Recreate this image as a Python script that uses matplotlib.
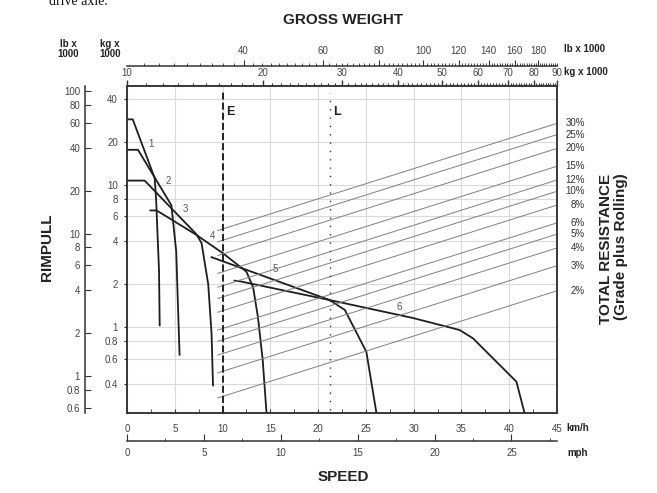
import matplotlib
matplotlib.use("Agg")
import matplotlib.pyplot as plt
from matplotlib.ticker import FixedLocator, NullLocator, NullFormatter

plt.rcParams['font.family'] = ['Liberation Sans', 'DejaVu Sans']

KG_TO_LB = 2.2046
KMH_TO_MPH = 0.621371

# gear curves: speed in km/h, rimpull in kg x 1000
gear1_speed = [0.0, 0.6, 2.8, 2.9, 3.05, 3.35, 3.42]
gear1_rimpull = [28.8, 28.8, 11.6, 11.1, 7.8, 2.5, 1.03]
gear2_speed = [0.0, 1.15, 4.45, 4.65, 5.15, 5.5]
gear2_rimpull = [17.6, 17.6, 7.55, 7.15, 3.4, 0.64]
gear3_speed = [0.0, 1.85, 7.25, 7.8, 8.5, 8.85, 9.0]
gear3_rimpull = [10.7, 10.7, 4.5, 3.9, 2.0, 0.9, 0.39]
gear4_speed = [2.45, 3.1, 7.25, 10.05, 12.5, 13.2, 13.7, 14.2, 14.6]
gear4_rimpull = [6.6, 6.6, 4.45, 3.3, 2.45, 1.9, 1.18, 0.59, 0.25]
gear5_speed = [8.85, 15.45, 21.2, 22.8, 25.05, 26.1]
gear5_rimpull = [3.1, 2.14, 1.55, 1.32, 0.67, 0.25]
gear6_speed = [11.25, 11.8, 21.2, 29.9, 34.8, 36.2, 40.75, 41.6]
gear6_rimpull = [2.12, 2.1, 1.55, 1.16, 0.955, 0.835, 0.414, 0.25]
gear_names = ['1', '2', '3', '4', '5', '6']

# total resistance lines, drawn against gross weight (kg x 1000)
grades = [30, 25, 20, 15, 12, 10, 8, 6, 5, 4, 3, 2]
gw_start = 15.9
gw_end = 90

# empty / loaded gross weight markers (kg x 1000)
empty_gw = 16.3
loaded_gw = 28.2

# tick values
kg_rimpull_ticks = [40, 20, 10, 8, 6, 4, 2, 1, 0.8, 0.6, 0.4]
lb_rimpull_ticks = [100, 80, 60, 40, 20, 10, 8, 6, 4, 2, 1, 0.8, 0.6]
kmh_ticks = list(range(0, 50, 5))
mph_ticks = list(range(0, 30, 5))
kg_gw_ticks = list(range(10, 100, 10))
lb_gw_ticks = list(range(40, 200, 20))

W, H = 657, 493


def px(x, y):
    return x / W, 1 - y / H


def fmt(v):
    return str(v) if v < 1 else str(int(v))


fig = plt.figure(figsize=(W / 100, H / 100), dpi=100)
ax = fig.add_axes([127 / W, 80 / H, 430 / W, 327 / H])
ax.set_xlim(0, 45)
ax.set_yscale('log')
ax.set_ylim(0.2493, 49.4)

tick_col = '#444'
spine_col = '#333'
for s in ax.spines.values():
    s.set_color(spine_col)
    s.set_linewidth(1.1)

ax.set_yticks(kg_rimpull_ticks, [fmt(v) for v in kg_rimpull_ticks])
ax.yaxis.set_minor_locator(NullLocator())
ax.set_xticks(kmh_ticks, [str(v) for v in kmh_ticks])
ax.xaxis.set_minor_locator(FixedLocator([v + 2.5 for v in kmh_ticks[:-1]]))
ax.tick_params(axis='y', which='both', direction='out', length=2.5, pad=4,
               labelsize=7, labelcolor=tick_col, color=spine_col, right=False)
ax.tick_params(axis='x', which='both', direction='in', length=3, pad=8,
               labelsize=7, labelcolor=tick_col, color=spine_col, top=False)
ax.grid(True, which='major', color='#dadada', lw=0.8)
ax.set_axisbelow(True)

gears = [(gear1_speed, gear1_rimpull), (gear2_speed, gear2_rimpull),
         (gear3_speed, gear3_rimpull), (gear4_speed, gear4_rimpull),
         (gear5_speed, gear5_rimpull), (gear6_speed, gear6_rimpull)]
for sp, rp in gears:
    ax.plot(sp, rp, color='#1e1e1e', lw=1.3, zorder=4)

label_pos = [(2.55, 19.4), (4.3, 10.6), (6.15, 6.8), (8.9, 4.35),
             (15.55, 2.55), (28.5, 1.39)]
for name, (sx, ry) in zip(gear_names, label_pos):
    ax.text(sx, ry, name, fontsize=7, color='#555', ha='center', va='center')

# gross weight scale (top) shares the rimpull axis
ax_gw = ax.twiny()
ax_gw.set_xscale('log')
ax_gw.set_xlim(10, 90)
ax_gw.set_xticks(kg_gw_ticks, [str(v) for v in kg_gw_ticks])
ax_gw.xaxis.set_minor_locator(FixedLocator([v for v in range(11, 90) if v % 10]))
ax_gw.xaxis.set_minor_formatter(NullFormatter())
ax_gw.tick_params(axis='x', which='major', direction='out', length=4, pad=2,
                  labelsize=7, labelcolor=tick_col, color=spine_col, width=1)
ax_gw.tick_params(axis='x', which='minor', direction='out', length=2,
                  color=spine_col, width=0.8)
for s in ax_gw.spines.values():
    s.set_color(spine_col)
    s.set_linewidth(1.1)

for g in grades:
    ax_gw.plot([gw_start, gw_end], [gw_start * g / 100, gw_end * g / 100],
               color='#808080', lw=0.7, zorder=2)
    ax_gw.annotate(f'{g}%', xy=(gw_end, gw_end * g / 100), xytext=(20, 0),
                   textcoords='offset points', ha='right', va='center',
                   fontsize=7, color='#333', annotation_clip=False)

ax_gw.axvline(empty_gw, ymin=0, ymax=0.985, color='#222', lw=1.4,
              ls=(0, (3.6, 1.6)), zorder=5)
ax_gw.axvline(loaded_gw, ymin=0.01, ymax=0.98, color='#333', lw=1.0,
              ls=(0, (1, 5)), zorder=5)
ax_gw.annotate('E', xy=(empty_gw, 32.4), xytext=(2.5, 0), textcoords='offset points',
               ha='left', va='center', fontsize=9, fontweight='bold', color='#222')
ax_gw.annotate('L', xy=(loaded_gw, 32.4), xytext=(2.5, 0), textcoords='offset points',
               ha='left', va='center', fontsize=9, fontweight='bold', color='#222')

# gross weight in lb x 1000
sec_lb = ax_gw.secondary_xaxis(1 + 20 / 327, functions=(lambda x: x * KG_TO_LB,
                                                        lambda x: x / KG_TO_LB))
sec_lb.set_xticks(lb_gw_ticks, [str(v) for v in lb_gw_ticks])
sec_lb.xaxis.set_minor_locator(FixedLocator([v for v in range(22, 199, 2) if v % 20]))
sec_lb.xaxis.set_minor_formatter(NullFormatter())
sec_lb.tick_params(axis='x', which='major', direction='out', length=4, pad=3,
                   labelsize=7, labelcolor=tick_col, color=spine_col)
sec_lb.tick_params(axis='x', which='minor', direction='out', length=2, color=spine_col)
for s in sec_lb.spines.values():
    s.set_color(spine_col)
    s.set_linewidth(1.1)

# rimpull in lb x 1000
sec_y = ax.secondary_yaxis(-42 / 430, functions=(lambda y: y * KG_TO_LB,
                                                  lambda y: y / KG_TO_LB))
sec_y.set_yticks(lb_rimpull_ticks, [fmt(v) for v in lb_rimpull_ticks])
sec_y.yaxis.set_minor_locator(NullLocator())
sec_y.tick_params(axis='y', direction='in', length=4, pad=3.5,
                  labelsize=7, labelcolor=tick_col, color=spine_col)
for s in sec_y.spines.values():
    s.set_color(spine_col)
    s.set_linewidth(1.1)

# speed in mph
sec_mph = ax.secondary_xaxis(-28.4 / 327, functions=(lambda x: x * KMH_TO_MPH,
                                                     lambda x: x / KMH_TO_MPH))
sec_mph.set_xticks(mph_ticks, [str(v) for v in mph_ticks])
sec_mph.xaxis.set_minor_locator(FixedLocator([v + 2.5 for v in mph_ticks]))
sec_mph.xaxis.set_minor_formatter(NullFormatter())
sec_mph.tick_params(axis='x', which='major', direction='in', length=5, pad=5,
                    labelsize=7, labelcolor=tick_col, color=spine_col)
sec_mph.tick_params(axis='x', which='minor', direction='in', length=2.5, color=spine_col)
for s in sec_mph.spines.values():
    s.set_color(spine_col)
    s.set_linewidth(1.1)

# titles and unit labels
title_col = '#222'
fig.text(*px(343, 20), 'GROSS WEIGHT', fontsize=11, fontweight='bold',
         color=title_col, ha='center', va='center')
fig.text(*px(343, 477), 'SPEED', fontsize=11, fontweight='bold',
         color=title_col, ha='center', va='center')
fig.text(*px(47.5, 247), 'RIMPULL', fontsize=11, fontweight='bold',
         color=title_col, ha='center', va='center', rotation=90)
fig.text(*px(606, 249), 'TOTAL RESISTANCE', fontsize=11, fontweight='bold',
         color=title_col, ha='center', va='center', rotation=90)
fig.text(*px(621, 247), '(Grade plus Rolling)', fontsize=11, fontweight='bold',
         color=title_col, ha='center', va='center', rotation=90)

unit_kw = dict(fontsize=7, fontweight='bold', color=title_col)
fig.text(*px(68, 49), 'lb x\n1000', ha='center', va='center', linespacing=1.05, **unit_kw)
fig.text(*px(110, 49), 'kg x\n1000', ha='center', va='center', linespacing=1.05, **unit_kw)
fig.text(*px(564, 49), 'lb x 1000', ha='left', va='center', **unit_kw)
fig.text(*px(564, 72), 'kg x 1000', ha='left', va='center', **unit_kw)
fig.text(*px(566, 428), 'km/h', ha='left', va='center', **unit_kw)
fig.text(*px(567, 453), 'mph', ha='left', va='center', **unit_kw)

fig.text(*px(49, 5), 'drive axle.', fontsize=10, color='#111', ha='left',
         va='baseline', family=['Liberation Serif', 'DejaVu Serif'])

fig.savefig('out.png', dpi=100)
